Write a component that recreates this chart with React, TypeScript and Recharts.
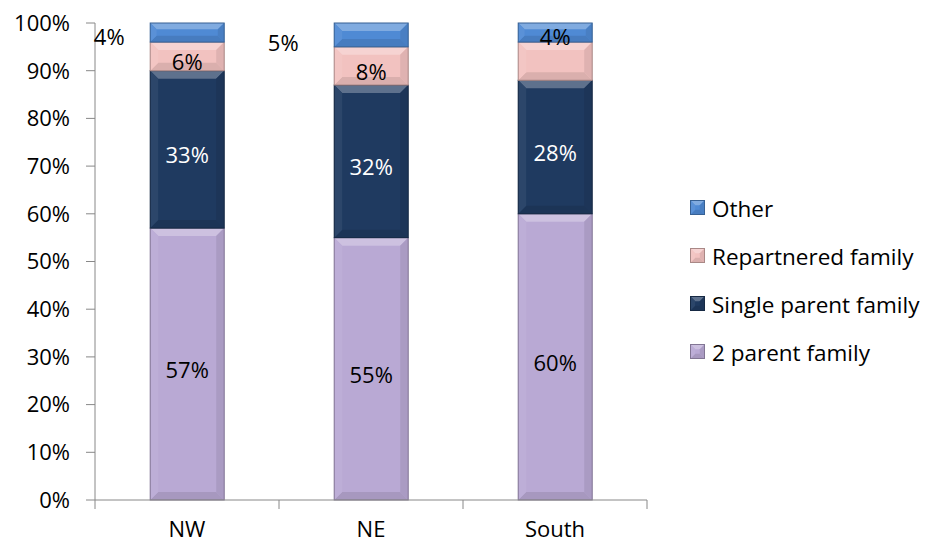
import { Bar, BarChart, LabelList, Legend, XAxis, YAxis } from 'recharts';

const regions = ['NW', 'NE', 'South'];
const twoParent = [57, 55, 60];
const singleParent = [33, 32, 28];
const repartnered = [6, 8, 8];
const other = [4, 5, 4];
const yTicks = [0, 10, 20, 30, 40, 50, 60, 70, 80, 90, 100];

// which labels Excel showed, and where the small "Other" ones ended up
const repartneredShown = [true, true, false];
const otherLabelShift = [-78, -88, 0];
const otherLabelDrop = [-2, 2, -2];

const FONT = '"Open Sans", sans-serif';
const AXIS = '#888888';

const series = [
	{ key: 'twoParent', name: '2 parent family', color: '#B9A9D4', text: '#000' },
	{ key: 'singleParent', name: 'Single parent family', color: '#1F3A60', text: '#fff' },
	{ key: 'repartnered', name: 'Repartnered family', color: '#F2C2C0', text: '#000' },
	{ key: 'other', name: 'Other', color: '#4F8AD4', text: '#000' },
];

const data = regions.map((region, i) => ({
	region,
	twoParent: twoParent[i],
	singleParent: singleParent[i],
	repartnered: repartnered[i],
	other: other[i],
}));

const shade = (hex: string, amt: number) => {
	const n = parseInt(hex.slice(1), 16);
	const ch = [(n >> 16) & 255, (n >> 8) & 255, n & 255].map((c) =>
		Math.round(amt >= 0 ? c + (255 - c) * amt : c * (1 + amt))
	);
	return `rgb(${ch[0]},${ch[1]},${ch[2]})`;
};

const BevelBar = (props: any) => {
	const { x, y, width: w, height: h, fill } = props;
	if (!h || h <= 0) return null;
	const b = Math.min(8, h / 3);
	return (
		<g>
			<rect x={x} y={y} width={w} height={h} fill={fill} />
			<polygon
				points={`${x},${y} ${x + w},${y} ${x + w - b},${y + b} ${x + b},${y + b}`}
				fill={shade(fill, 0.28)}
			/>
			<polygon
				points={`${x},${y + h} ${x + w},${y + h} ${x + w - b},${y + h - b} ${x + b},${y + h - b}`}
				fill={shade(fill, -0.1)}
			/>
			<polygon
				points={`${x},${y} ${x + b},${y + b} ${x + b},${y + h - b} ${x},${y + h}`}
				fill={shade(fill, 0.06)}
			/>
			<polygon
				points={`${x + w},${y} ${x + w - b},${y + b} ${x + w - b},${y + h - b} ${x + w},${y + h}`}
				fill={shade(fill, -0.08)}
			/>
			<rect x={x} y={y} width={w} height={h} fill='none' stroke={shade(fill, -0.3)} strokeWidth={1} />
		</g>
	);
};

const XTick = (props: any) => {
	const { x, y, payload, index, visibleTicksCount } = props;
	const half = payload.offset ?? 0;
	return (
		<g>
			<line x1={x - half} x2={x - half} y1={y} y2={y + 9} stroke={AXIS} />
			{index === visibleTicksCount - 1 && (
				<line x1={x + half} x2={x + half} y1={y} y2={y + 9} stroke={AXIS} />
			)}
			<text x={x} y={y + 28} textAnchor='middle' dominantBaseline='central' fontSize={22} fontFamily={FONT} fill='#000'>
				{payload.value}
			</text>
		</g>
	);
};

const makeLabel = (color: string, shown?: boolean[], shift?: number[], drop?: number[]) => (props: any) => {
	const { x, y, width, height, value, index } = props;
	if (shown && !shown[index]) return null;
	const dx = shift ? shift[index] : 0;
	const dy = drop ? drop[index] : 0;
	return (
		<text
			x={x + width / 2 + dx}
			y={y + height / 2 + 5 + dy}
			textAnchor='middle'
			dominantBaseline='central'
			fontSize={22}
			fontFamily={FONT}
			fill={color}
		>
			{`${value}%`}
		</text>
	);
};

const LegendList = () => (
	<div style={{ fontFamily: FONT, fontSize: 22.5, color: '#000' }}>
		{[...series].reverse().map((s) => (
			<div key={s.key} style={{ display: 'flex', alignItems: 'center', height: 48 }}>
				<svg width={16} height={16} style={{ marginRight: 6 }}>
					<BevelBar x={0.5} y={0.5} width={14} height={14} fill={s.color} />
				</svg>
				<span style={{ whiteSpace: 'nowrap' }}>{s.name}</span>
			</div>
		))}
	</div>
);

export default function App() {
	return (
		<div style={{ position: 'absolute', left: 0, top: 0, background: '#fff' }}>
			<BarChart
				width={929}
				height={549}
				data={data}
				margin={{ top: 23, right: 43, left: 0, bottom: 0 }}
				barCategoryGap='30%'
			>
				<XAxis
					dataKey='region'
					height={49}
					interval={0}
					tickSize={0}
					tickMargin={0}
					tickLine={false}
					axisLine={{ stroke: AXIS }}
					tick={<XTick />}
				/>
				<YAxis
					width={95}
					domain={[0, 100]}
					ticks={yTicks}
					interval={0}
					tickFormatter={(v) => `${v}%`}
					tickSize={9}
					tickMargin={16}
					tickLine={{ stroke: AXIS }}
					axisLine={{ stroke: AXIS }}
					tick={{ fontSize: 22, fontFamily: FONT, fill: '#000' }}
				/>
				<Legend
					layout='vertical'
					align='right'
					verticalAlign='top'
					wrapperStyle={{ left: 690, top: 184, width: 239 }}
					content={() => <LegendList />}
				/>
				{series.map((s) => (
					<Bar
						key={s.key}
						dataKey={s.key}
						name={s.name}
						stackId='a'
						fill={s.color}
						shape={<BevelBar />}
						isAnimationActive={false}
					>
						<LabelList
							dataKey={s.key}
							content={
								s.key === 'other'
									? makeLabel(s.text, undefined, otherLabelShift, otherLabelDrop)
									: s.key === 'repartnered'
									? makeLabel(s.text, repartneredShown)
									: makeLabel(s.text)
							}
						/>
					</Bar>
				))}
			</BarChart>
		</div>
	);
}
